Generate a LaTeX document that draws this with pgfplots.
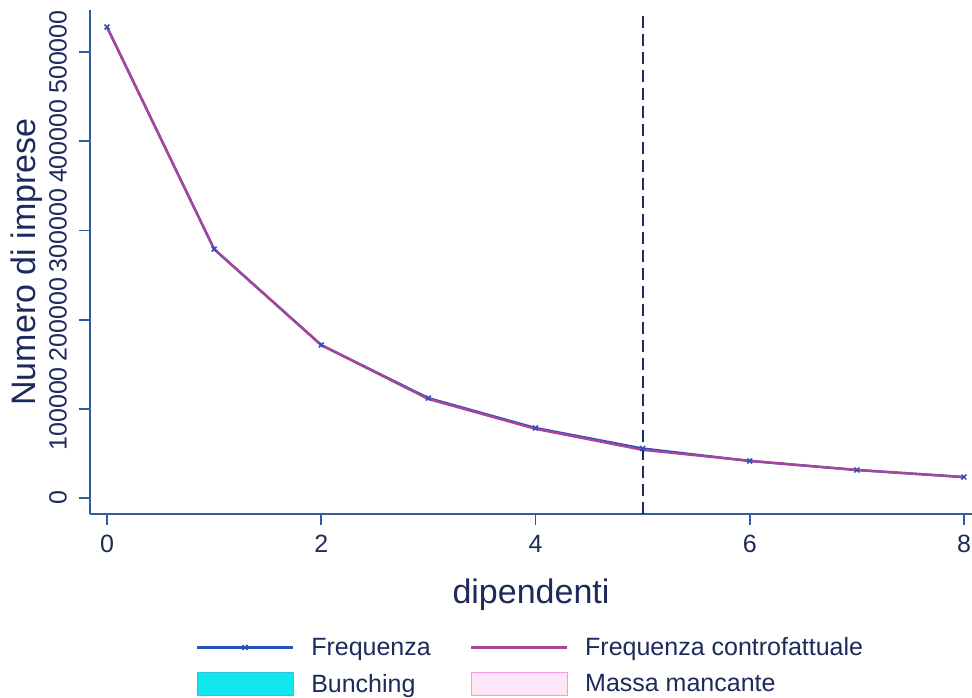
\documentclass[border=0pt]{standalone}
\usepackage{fontspec}
\setmainfont{Liberation Sans}
\usepackage{pgfplots}
\pgfplotsset{compat=1.18}
\definecolor{axcol}{HTML}{2E5C9E}
\definecolor{txtcol}{HTML}{1C2A5C}
\definecolor{freqcol}{HTML}{2A52B8}
\definecolor{cfcol}{HTML}{A8449A}
\definecolor{bunchfill}{HTML}{12E6EE}
\definecolor{bunchdraw}{HTML}{2CC4D6}
\definecolor{missfill}{HTML}{FCE6F8}
\definecolor{missdraw}{HTML}{F09CE6}
\pgfplotsset{
  legmark/.style={legend image code/.code={\draw[##1, mark repeat=2, mark phase=2] plot coordinates {(0pt,0pt) (48pt,0pt) (96pt,0pt)};}},
  legline/.style={legend image code/.code={\draw[##1] (0pt,0pt) -- (96pt,0pt);}},
  legbox/.style={legend image code/.code={\draw[##1] (0pt,-11.5pt) rectangle (96pt,11.5pt);}},
}
\begin{document}
\begin{tikzpicture}
\path[use as bounding box] (-90pt,-183pt) rectangle (882pt,514pt);
\begin{axis}[
  at={(0,0)}, anchor=south west,
  scale only axis, width=882pt, height=504pt,
  xmin=-0.1587, xmax=8.075, ymin=-17937, ymax=547085,
  axis lines*=left, axis line style={axcol, line width=2pt, -},
  xtick={0,2,4,6,8}, xticklabels={0,2,4,6,8},
  ytick={0,100000,200000,300000,400000,500000},
  yticklabels={0,100000,200000,300000,400000,500000},
  tick align=outside, major tick length=11pt,
  tick style={axcol, line width=1.8pt},
  scaled y ticks=false,
  ticklabel style={font=\fontsize{25}{30}\selectfont, text=txtcol},
  yticklabel style={rotate=90, anchor=south, inner sep=12pt},
  xticklabel style={inner sep=10pt},
  xlabel={dipendenti}, ylabel={Numero di imprese},
  label style={font=\fontsize{34}{40}\selectfont, text=txtcol},
  xlabel style={yshift=-12pt},
  ylabel style={yshift=-9pt},
  legend columns=2,
  legend style={at={(0.5,-0.235)}, anchor=north, draw=none, fill=none,
    font=\fontsize{25}{30}\selectfont, text=txtcol,
    /tikz/every odd column/.append style={column sep=14pt},
    /tikz/every even column/.append style={column sep=36pt},
    row sep=11pt, nodes={inner sep=3pt, anchor=west}},
  legend cell align=left,
]
\addplot[bunchdraw, fill=bunchfill, line width=0.8pt, forget plot] coordinates {(3,112000)(4,78500)(5,55500)(5,54000)(4,77500)(3,111000)} -- cycle;
\addplot[missdraw, fill=missfill, line width=0.8pt, forget plot] coordinates {(5,54000)(6,41700)(6,41500)(5,55500)} -- cycle;
\addplot[freqcol, line width=2.4pt, mark=x, mark size=3.5pt, mark options={line width=1.5pt}, legmark]
  coordinates {(0,528000)(1,279000)(2,171500)(3,112000)(4,78500)(5,55500)(6,41500)(7,31400)(8,23500)};
\addlegendentry{Frequenza}
\addplot[cfcol, line width=2.4pt, legline]
  coordinates {(0,528000)(1,279000)(2,171500)(3,111000)(4,77500)(5,54000)(6,41700)(7,31400)(8,23500)};
\addlegendentry{Frequenza controfattuale}
\addplot[txtcol, line width=2.2pt, dash pattern=on 12pt off 6pt, forget plot] coordinates {(5,-17937)(5,540000)};
\addlegendimage{bunchdraw, fill=bunchfill, line width=0.8pt, legbox}
\addlegendentry{Bunching}
\addlegendimage{missdraw, fill=missfill, line width=0.8pt, legbox}
\addlegendentry{Massa mancante}
\end{axis}
\end{tikzpicture}
\end{document}
